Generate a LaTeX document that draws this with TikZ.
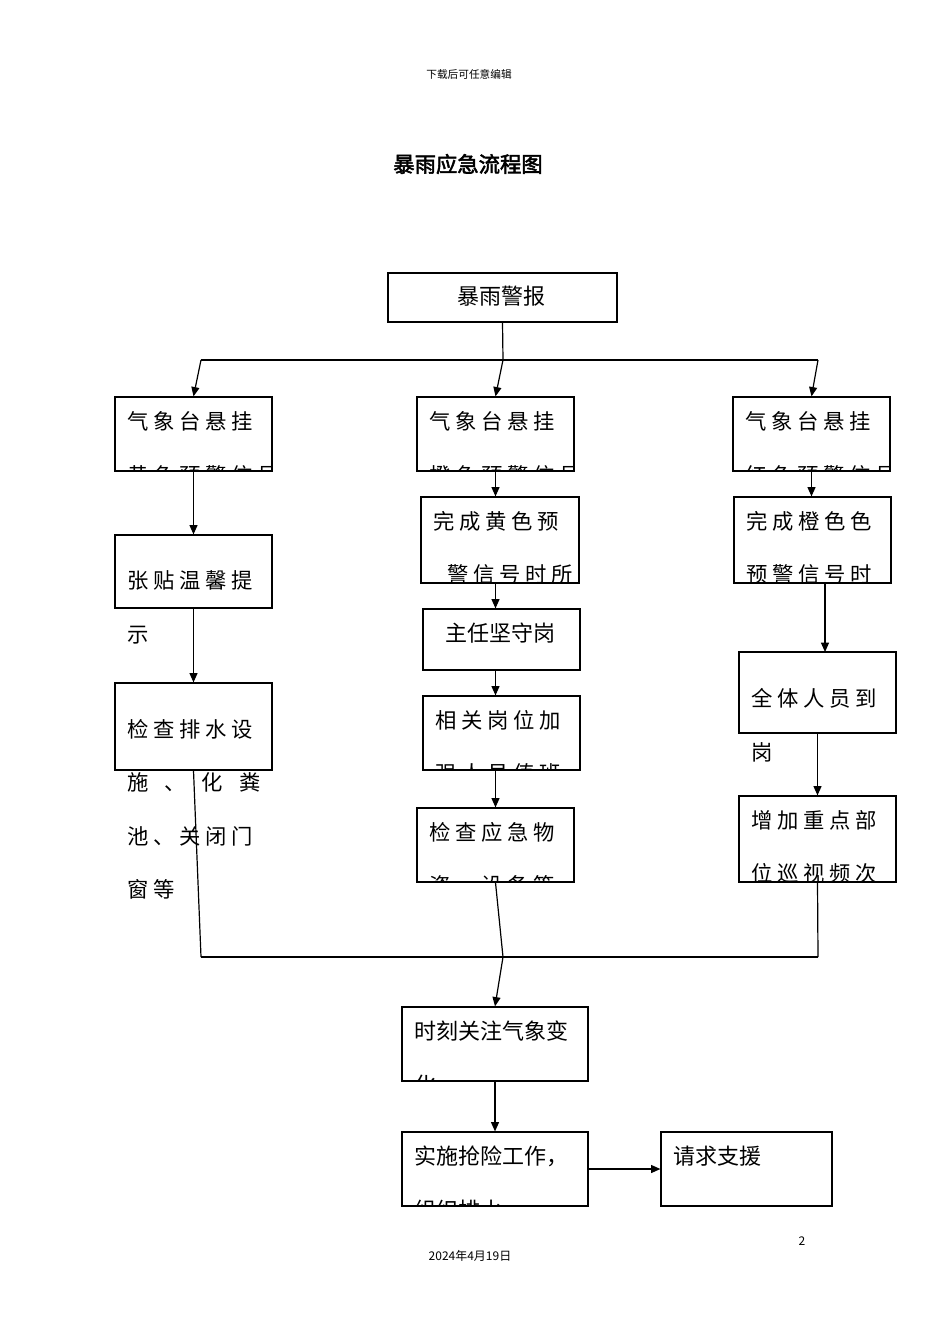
\documentclass[tikz,border=0pt]{standalone}
\usepackage{fontspec}
\setmainfont{Noto Sans CJK SC}[AutoFakeBold=2.5]
\newfontfamily\wide{Noto Sans CJK SC}[LetterSpace=22]
\usetikzlibrary{arrows.meta}
\begin{document}
\begin{tikzpicture}[x=0.75pt,y=-0.75pt,
  box/.style={draw,line width=0.9pt,inner sep=0},
  arr/.style={line width=0.9pt,-{Triangle[length=7pt,width=6pt]}},
  ln/.style={line width=0.9pt},
  t/.style={anchor=base west,inner sep=0,font=\fontsize{16.5pt}{18pt}\selectfont},
  tw/.style={anchor=base west,inner sep=0,font=\fontsize{16pt}{18pt}\wide}]
\useasboundingbox (0,0) rectangle (950,1344);
\newcommand\bx[5]{\node[box,minimum width=(#4-#2)*0.75pt,minimum height=(#5-#3)*0.75pt] (#1) at ({(#2+#4)/2},{(#3+#5)/2}) {};}
\newcommand\cl[5]{\begin{scope}\clip (#1.south west) rectangle (#1.north east);\node[#2] at (#3,#4) {#5};\end{scope}}
% headers
\node[inner sep=0,font=\fontsize{8pt}{9pt}\selectfont] (hd) at (469,74) {下载后可任意编辑};
\node[inner sep=0,font=\fontsize{16pt}{18pt}\bfseries] (ttl) at (468,164) {暴雨应急流程图};
\node[inner sep=0,font=\fontsize{9pt}{10pt}\selectfont] (ft) at (470,1256) {2024年4月19日};
\node[inner sep=0,font=\fontsize{9pt}{10pt}\selectfont] (pg) at (802,1241) {2};
% boxes
\bx{top}{388}{273}{617}{322}
\bx{l1}{115}{397}{272}{471}
\bx{m1}{417}{397}{574}{471}
\bx{r1}{733}{397}{890}{471}
\bx{l2}{115}{535}{272}{608}
\bx{l3}{115}{683}{272}{770}
\bx{m2}{421}{497}{579}{583}
\bx{m3}{423}{609}{580}{670}
\bx{m4}{423}{696}{580}{770}
\bx{m5}{417}{808}{574}{882}
\bx{r2}{734}{497}{891}{583}
\bx{r3}{739}{652}{896}{733}
\bx{r4}{739}{796}{896}{882}
\bx{b1}{402}{1007}{588}{1081}
\bx{b2}{402}{1132}{588}{1206}
\bx{b3}{661}{1132}{832}{1206}
% texts
\node[t] at (457,305) {暴雨警报};
\cl{l1}{tw}{127}{429}{气象台悬挂\\}
\cl{l1}{tw}{127}{483}{黄色预警信号}
\cl{m1}{tw}{429}{429}{气象台悬挂}
\cl{m1}{tw}{429}{483}{橙色预警信号}
\cl{r1}{tw}{745}{429}{气象台悬挂}
\cl{r1}{tw}{745}{483}{红色预警信号}
\node[tw] at (127,588) {张贴温馨提};
\node[tw] at (127,642) {示};
\node[tw] at (127,737) {检查排水设};
\node[tw] at (127,790) {施\hspace{12pt}、\hspace{12pt}化\hspace{12pt}粪};
\node[tw] at (127,844) {池、关闭门};
\node[tw] at (127,897) {窗等};
\cl{m2}{tw}{433}{529}{完成黄色预}
\cl{m2}{tw}{447}{582}{警信号时所}
\node[t] at (445,641) {主任坚守岗};
\cl{m4}{tw}{435}{728}{相关岗位加}
\cl{m4}{tw}{435}{781}{强人员值班}
\cl{m5}{tw}{429}{840}{检查应急物}
\cl{m5}{tw}{429}{893}{资、设备等}
\cl{r2}{tw}{746}{529}{完成橙色色}
\cl{r2}{tw}{746}{582}{预警信号时}
\node[tw] at (751,706) {全体人员到};
\node[tw] at (751,760) {岗};
\cl{r4}{tw}{751}{828}{增加重点部}
\cl{r4}{tw}{751}{881}{位巡视频次}
\cl{b1}{t}{414}{1039}{时刻关注气象变}
\cl{b1}{t}{414}{1093}{化}
\cl{b2}{t}{414}{1164}{实施抢险工作，}
\cl{b2}{t}{414}{1218}{组织排水}
\node[t] at (673,1164) {请求支援};
% connectors
\coordinate (j0) at (503,360);
\coordinate (jl) at (201,360);
\coordinate (jr) at (818,360);
\coordinate (kl) at (201,957);
\coordinate (km) at (503,957);
\coordinate (kr) at (818,957);
\draw[ln] (top.south) -- (j0);
\draw[ln] (jl) -- (jr);
\draw[arr] (jl) -- (l1.north);
\draw[arr] (j0) -- (m1.north);
\draw[arr] (jr) -- (r1.north);
\draw[arr] (l1.south) -- (l2.north);
\draw[arr] (l2.south) -- (l3.north);
\draw[ln] (l3.south) -- (kl);
\draw[arr] (m1.south) -- (m1.south|-m2.north);
\draw[arr] (m1.south|-m2.south) -- (m1.south|-m3.north);
\draw[arr] (m1.south|-m3.south) -- (m1.south|-m4.north);
\draw[arr] (m1.south|-m4.south) -- (m1.south|-m5.north);
\draw[ln] (m1.south|-m5.south) -- (km);
\draw[ln] (kl) -- (kr);
\draw[arr] (km) -- (b1.north);
\draw[arr] (r1.south) -- (r1.south|-r2.north);
\draw[arr] (825,583) -- (825,652);
\draw[arr] (r3.south) -- (r4.north);
\draw[ln] (r4.south) -- (kr);
\draw[arr] (b1.south) -- (b2.north);
\draw[arr] (b2.east) -- (b3.west);
\end{tikzpicture}
\end{document}
